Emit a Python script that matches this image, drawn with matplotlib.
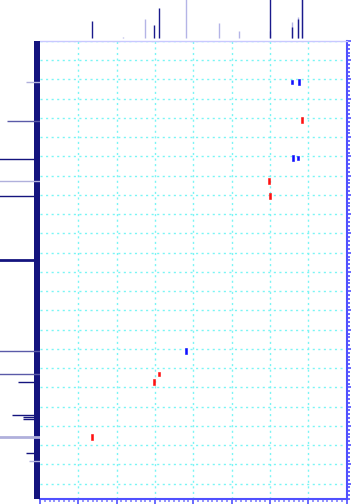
import matplotlib
matplotlib.use("Agg")
import matplotlib.pyplot as plt
from matplotlib.ticker import MultipleLocator
from matplotlib.path import Path

# ---------------- data ----------------
# 2D cross peaks (1H ppm, 13C ppm, signed relative amplitude)
peak_h = [1.41, 1.25, 1.16, 1.40, 1.26, 2.01, 2.00, 4.20, 4.89, 5.02, 6.64]
peak_c = [10.6, 10.7, 20.6, 30.5, 30.4, 36.3, 40.4, 80.6, 86.5, 88.6, 102.9]
peak_amp = [-0.5, -1.0, 1.0, -1.0, -0.5, 1.0, 1.0, -1.0, 0.5, 1.0, 1.0]

# top 1H projection (ppm, relative height)
top_dark_ppm = [6.64, 5.02, 4.89, 2.00, 1.41, 1.26, 1.15]
top_dark_h = [0.46, 0.35, 0.78, 1.5, 0.30, 0.51, 1.5]
top_light_ppm = [5.83, 5.25, 4.20, 3.32, 2.81, 1.41, 1.26, 1.15, 2.00]
top_light_h = [0.04, 0.51, 1.5, 0.40, 0.19, 0.43, 0.55, 1.5, 0.2]

# left 13C projection (ppm, relative intensity, shade)
left_ppm = [10.7, 20.7, 30.6, 36.3, 40.4, 56.9, 80.6, 86.5, 88.6, 97.3, 97.8, 98.2, 103.0, 107.1, 109.1]
left_int = [0.35, 0.82, 1.5, 1.5, 1.5, 1.5, 1.5, 1.5, 0.55, 0.70, 0.43, 0.43, 1.5, 0.35, 0.28]
left_shade = ["light", "mid", "dark", "light", "dark", "dark", "mid", "mid", "dark",
              "dark", "dark", "dark", "light", "dark", "light"]

# axis ranges
x_range = (8.0, 0.0)
y_range = (0.0, 119.0)

# ---------------- figure ----------------
W, H = 351, 504
fig = plt.figure(figsize=(W / 100, H / 100), dpi=100)

L, R, T, B = 40, 346.5, 41, 499
ax = fig.add_axes([L / W, (H - B) / H, (R - L) / W, (B - T) / H])
ax_top = fig.add_axes([L / W, (H - T) / H, (R - L) / W, T / H], sharex=ax)
ax_left = fig.add_axes([0, (H - B) / H, L / W, (B - T) / H], sharey=ax)

ax.set_xlim(*x_range)
ax.set_ylim(y_range[1], y_range[0])

# grid
grid_kw = dict(color="#7af5f5", lw=1.0, ls=(0, (1.5, 2.5)), zorder=1)
for v in range(1, 9):
    ax.axvline(8 - v, **grid_kw)
for v in range(0, 119, 5):
    ax.axhline(v, **grid_kw)

# cross peaks
rect = Path([(-0.22, -0.5), (0.22, -0.5), (0.22, 0.5), (-0.22, 0.5), (-0.22, -0.5)],
            [Path.MOVETO, Path.LINETO, Path.LINETO, Path.LINETO, Path.CLOSEPOLY])
for h, c, a in zip(peak_h, peak_c, peak_amp):
    col = "#ff1010" if a > 0 else "#1010ff"
    ms = 4.3 * abs(a) ** 0.5
    ax.plot([h], [c], marker=rect, ms=ms, color=col, mec=col, mew=0.4, ls="none", zorder=3)

# spines and ticks
axis_col = "#5050ff"
ax.spines["left"].set_visible(False)
ax.spines["top"].set_color("#c8c8ff")
ax.spines["top"].set_linewidth(1.0)
for s in ["right", "bottom"]:
    ax.spines[s].set_color(axis_col)
    ax.spines[s].set_linewidth(1.5)
ax.xaxis.set_major_locator(MultipleLocator(1))
ax.xaxis.set_minor_locator(MultipleLocator(0.125))
ax.yaxis.set_major_locator(MultipleLocator(5))
ax.yaxis.set_minor_locator(MultipleLocator(1))
ax.tick_params(axis="x", which="both", bottom=True, top=False, labelbottom=False,
               direction="out", color=axis_col)
ax.tick_params(axis="y", which="both", left=False, right=True, labelleft=False,
               labelright=False, direction="out", color=axis_col)
ax.tick_params(which="major", length=4, width=1.2)
ax.tick_params(which="minor", length=2, width=1.2)
ax.xaxis.set_tick_params(which="minor", color="#8080ff")

# top projection
ax_top.set_ylim(-0.07, 1.0)
ax_top.vlines(top_light_ppm, 0, top_light_h, colors="#b4b4e6", lw=1.0)
ax_top.vlines(top_dark_ppm, 0, top_dark_h, colors="#1a1a8c", lw=1.0)
ax_top.axis("off")

# left projection
shade_cols = {"light": "#b0b0dc", "mid": "#5a5aa8", "dark": "#14147e"}
ax_left.set_xlim(1.0, 0.0)
ax_left.axvspan(0.0, 0.15, color="#14147e", lw=0)
for p, i, s in zip(left_ppm, left_int, left_shade):
    lw = 2.0 if p in (56.9, 103.0) else 1.0
    ax_left.hlines(p, 0, i, colors=shade_cols[s], lw=lw)
ax_left.axis("off")

fig.savefig("out.png", dpi=100)
